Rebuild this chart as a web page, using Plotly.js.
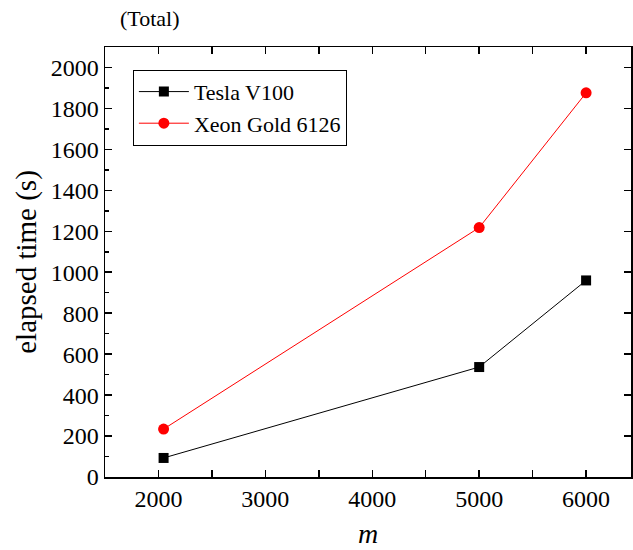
<!DOCTYPE html>
<html><head><meta charset="utf-8">
<script src="https://cdn.plot.ly/plotly-3.0.1.min.js"></script>
<style>body{margin:0;padding:0;background:#fff}#chart{width:633px;height:550px}</style>
</head><body><div id="chart"></div>
<script>
const mValues = [2048, 5000, 6000];
const teslaV100 = [93, 537, 960];
const xeonGold6126 = [234, 1218, 1876];
const seriesNames = ["Tesla V100", "Xeon Gold 6126"];
const yTickVals = [0, 200, 400, 600, 800, 1000, 1200, 1400, 1600, 1800, 2000];

const font = "'Times New Roman', 'Liberation Serif', serif";
const traces = [
  {x: mValues, y: teslaV100, name: seriesNames[0], mode: "lines+markers",
   line: {color: "#000", width: 1}, marker: {symbol: "square", size: 10, color: "#000"}},
  {x: mValues, y: xeonGold6126, name: seriesNames[1], mode: "lines+markers",
   line: {color: "#ff0000", width: 1}, marker: {symbol: "circle", size: 11, color: "#ff0000"}},
  {x: [mValues[0]], y: [null], yaxis: "y2", showlegend: false, hoverinfo: "skip", mode: "markers"}
];
const axisCommon = {
  showgrid: false, zeroline: false, showline: true, linecolor: "#000", linewidth: 1.5,
  ticks: "inside", ticklen: 7, tickwidth: 1.5, tickcolor: "#000",
  tickfont: {family: font, size: 24, color: "#000"}
};
const layout = {
  width: 633, height: 550,
  margin: {l: 105, r: 2, t: 47, b: 73},
  paper_bgcolor: "#fff", plot_bgcolor: "#fff",
  font: {family: font, color: "#000"},
  showlegend: true,
  legend: {x: 0.053, y: 0.947, xanchor: "left", yanchor: "top",
    bordercolor: "#000", borderwidth: 1, bgcolor: "#fff", itemwidth: 50,
    font: {family: font, size: 22, color: "#000"}, tracegroupgap: 0},
  xaxis: Object.assign({}, axisCommon, {
    range: [1500, 6420], dtick: 1000, tick0: 0, mirror: "allticks",
    minor: {ticks: "inside", dtick: 500, ticklen: 4, tickwidth: 1.5, tickcolor: "#000"},
    title: {text: "<i>m</i>", font: {family: font, size: 28, color: "#000"}, standoff: 12}
  }),
  yaxis: Object.assign({}, axisCommon, {
    range: [0, 2100], dtick: 200, tick0: 0, mirror: false,
    minor: {ticks: "inside", dtick: 100, ticklen: 4, tickwidth: 1.5, tickcolor: "#000"},
    title: {text: "elapsed time (s)", font: {family: font, size: 29, color: "#000"}, standoff: 5}
  }),
  yaxis2: Object.assign({}, axisCommon, {
    overlaying: "y", side: "right", range: [0, 2100], tickvals: yTickVals,
    showticklabels: false, mirror: false
  }),
  annotations: [{text: "(Total)", xref: "paper", yref: "paper", x: 0.025, y: 1.0,
    xanchor: "left", yanchor: "bottom", yshift: 14, showarrow: false,
    font: {family: font, size: 22, color: "#000"}}]
};
Plotly.newPlot("chart", traces, layout, {displayModeBar: false, staticPlot: true});
</script></body></html>
